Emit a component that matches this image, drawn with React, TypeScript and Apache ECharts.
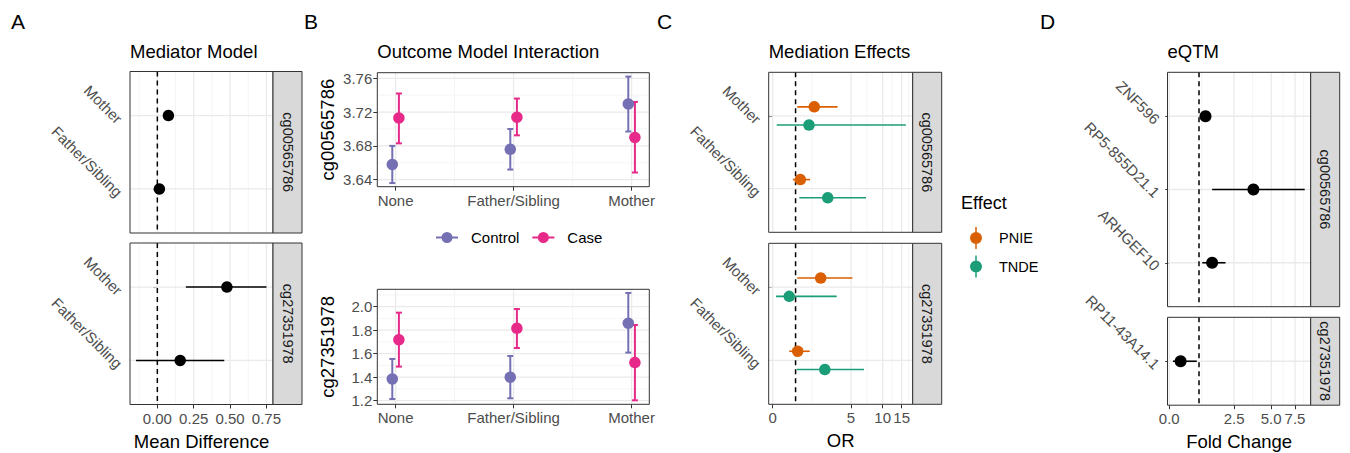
import React, { useEffect, useRef } from "react";
import * as echarts from "echarts";

// ---------- data ----------
const relations = ["Father/Sibling", "Mother"]; // y positions 1, 2
const cpgIds = ["cg00565786", "cg27351978"];

// Panel A: Mediator model (mean difference), order = relations
const medEstCg00565786 = [0.014, 0.076];
const medLoCg00565786 = [-0.012, 0.05];
const medHiCg00565786 = [0.04, 0.1];
const medEstCg27351978 = [0.157, 0.478];
const medLoCg27351978 = [-0.147, 0.196];
const medHiCg27351978 = [0.46, 0.75];
const meanDiffTicks = [0, 0.25, 0.5, 0.75];
const meanDiffMinor = [-0.125, 0.125, 0.375, 0.625];

// Panel B: Outcome model interaction
const exposureGroups = ["None", "Father/Sibling", "Mother"];
const ctrlMeanCg00565786 = [3.658, 3.676, 3.7296];
const ctrlLoCg00565786 = [3.636, 3.652, 3.697];
const ctrlHiCg00565786 = [3.68, 3.7, 3.762];
const caseMeanCg00565786 = [3.713, 3.714, 3.69];
const caseLoCg00565786 = [3.683, 3.6925, 3.6485];
const caseHiCg00565786 = [3.742, 3.736, 3.732];
const ctrlMeanCg27351978 = [1.385, 1.4, 1.859];
const ctrlLoCg27351978 = [1.214, 1.22, 1.609];
const ctrlHiCg27351978 = [1.555, 1.58, 2.117];
const caseMeanCg27351978 = [1.719, 1.816, 1.524];
const caseLoCg27351978 = [1.49, 1.648, 1.203];
const caseHiCg27351978 = [1.949, 1.98, 1.844];
const bTicksTop = [3.64, 3.68, 3.72, 3.76];
const bMinorTop = [3.66, 3.7, 3.74];
const bTicksBottom = [1.2, 1.4, 1.6, 1.8, 2.0];
const bMinorBottom = [1.3, 1.5, 1.7, 1.9, 2.1];

// Panel C: Mediation effects (OR), order = relations
const pnieOrCg00565786 = [1.23, 1.98];
const pnieLoCg00565786 = [0.87, 1.08];
const pnieHiCg00565786 = [1.74, 3.66];
const tndeOrCg00565786 = [2.87, 1.68];
const tndeLoCg00565786 = [1.18, 0.17];
const tndeHiCg00565786 = [6.98, 16.4];
const pnieOrCg27351978 = [1.1, 2.38];
const pnieLoCg27351978 = [0.71, 1.08];
const pnieHiCg27351978 = [1.72, 5.16];
const tndeOrCg27351978 = [2.66, 0.71];
const tndeLoCg27351978 = [1.05, 0.14];
const tndeHiCg27351978 = [6.68, 3.58];
const orTicks = [0, 5, 10, 15];
const orTicksExt = [0, 5, 10, 15, 20];

// Panel D: eQTM (fold change)
const genesCg00565786 = ["ARHGEF10", "RP5-855D21.1", "ZNF596"]; // y 1..3
const fcCg00565786 = [1.5, 3.64, 1.24];
const fcLoCg00565786 = [1.12, 1.5, 1.12];
const fcHiCg00565786 = [2.08, 8.82, 1.36];
const genesCg27351978 = ["RP11-43A14.1"];
const fcCg27351978 = [0.37];
const fcLoCg27351978 = [0.12];
const fcHiCg27351978 = [0.92];
const fcTicks = [0, 2.5, 5, 7.5];
const fcTicksExt = [0, 2.5, 5, 7.5, 10];

// ---------- styling / layout ----------
const COL_CTRL = "#7570B3";
const COL_CASE = "#E7298A";
const COL_PNIE = "#D95F02";
const COL_TNDE = "#1B9E77";
const FONT = "'Liberation Sans', Arial, Helvetica, sans-serif";
const GRID_MAJOR = "#EAEAEA";
const GRID_MINOR = "#F2F2F2";

const plog = (v: number) => Math.asinh(v / 2); // pseudo-log (sigma = 1)

const grids = [
  { left: 130, top: 71.5, width: 143, height: 161.5 }, // A top
  { left: 130, top: 243, width: 143, height: 161.5 }, // A bottom
  { left: 377.3, top: 72.7, width: 272, height: 114 }, // B top
  { left: 377.3, top: 289.3, width: 272, height: 115 }, // B bottom
  { left: 768.7, top: 72.3, width: 144, height: 160 }, // C top
  { left: 768.7, top: 243.3, width: 144, height: 161 }, // C bottom
  { left: 1167.5, top: 72.3, width: 143.2, height: 234.4 }, // D top
  { left: 1167.5, top: 317.3, width: 143.2, height: 87.9 }, // D bottom
];
const STRIP_W = 29;
const DODGE_B = 0.028;
const DODGE_C = 0.125;

const midpoints = (arr: number[]) =>
  arr.slice(1).map((v, i) => (v + arr[i]) / 2);

const nearestLabel = (vals: number[], labels: string[]) => (v: number) => {
  let best = 0;
  for (let i = 1; i < vals.length; i++)
    if (Math.abs(vals[i] - v) < Math.abs(vals[best] - v)) best = i;
  return labels[best];
};

const tickLabel = { color: "#4D4D4D", fontSize: 15, fontFamily: FONT };
const tickLine = { color: "#333333", width: 1 };

function xAxis(gi: number, min: number, max: number, ticks: number[], labels: string[], show: boolean, name?: string) {
  return {
    type: "value", gridIndex: gi, min, max,
    axisLine: { show: false }, splitLine: { show: false },
    axisTick: { show, customValues: ticks, length: 4, lineStyle: tickLine },
    axisLabel: { show, customValues: ticks, formatter: nearestLabel(ticks, labels), margin: 6, ...tickLabel },
    name: name || "", nameLocation: "middle", nameGap: 27,
    nameTextStyle: { fontSize: 18.5, color: "#000", fontFamily: FONT },
  };
}
function yAxis(gi: number, min: number, max: number, ticks: number[], labels: string[], rotate: number, name?: string) {
  const extra: any = rotate ? { verticalAlign: "top", margin: 5 } : { margin: 5 };
  return {
    type: "value", gridIndex: gi, min, max,
    axisLine: { show: false }, splitLine: { show: false },
    axisTick: { show: true, customValues: ticks, length: 4, lineStyle: tickLine },
    axisLabel: { show: true, customValues: ticks, formatter: nearestLabel(ticks, labels), rotate, ...tickLabel, ...extra },
    name: name || "", nameLocation: "middle", nameGap: 40, nameRotate: 90,
    nameTextStyle: { fontSize: 18.5, color: "#000", fontFamily: FONT },
  };
}

function gridLines(gi: number, xMajor: number[], xMinor: number[], yMajor: number[], yMinor: number[], vline?: number) {
  return {
    type: "custom", xAxisIndex: gi, yAxisIndex: gi, z: 1, silent: true,
    data: [[0, 0]],
    renderItem: (params: any, api: any) => {
      const cs = params.coordSys;
      const children: any[] = [];
      const vert = (v: number, w: number, c: string, dash?: number[]) => {
        const x = api.coord([v, 0])[0];
        if (x < cs.x - 0.5 || x > cs.x + cs.width + 0.5) return;
        children.push({ type: "line", shape: { x1: x, y1: cs.y, x2: x, y2: cs.y + cs.height }, style: { stroke: c, lineWidth: w, lineDash: dash } });
      };
      const hor = (v: number, w: number, c: string) => {
        const y = api.coord([0, v])[1];
        if (y < cs.y - 0.5 || y > cs.y + cs.height + 0.5) return;
        children.push({ type: "line", shape: { x1: cs.x, y1: y, x2: cs.x + cs.width, y2: y }, style: { stroke: c, lineWidth: w } });
      };
      xMinor.forEach((v) => vert(v, 0.8, GRID_MINOR));
      yMinor.forEach((v) => hor(v, 0.8, GRID_MINOR));
      xMajor.forEach((v) => vert(v, 1.3, GRID_MAJOR));
      yMajor.forEach((v) => hor(v, 1.3, GRID_MAJOR));
      if (vline !== undefined) vert(vline, 1.5, "#000", [5, 4]);
      return { type: "group", children };
    },
  };
}

function hErr(gi: number, data: number[][], color: string, width = 1.6) {
  return {
    type: "custom", xAxisIndex: gi, yAxisIndex: gi, z: 3, silent: true, data,
    encode: { x: 0, y: 1 },
    renderItem: (_p: any, api: any) => {
      const y = api.value(1);
      const a = api.coord([api.value(2), y]);
      const b = api.coord([api.value(3), y]);
      return { type: "line", shape: { x1: a[0], y1: a[1], x2: b[0], y2: b[1] }, style: { stroke: color, lineWidth: width } };
    },
  };
}
function vErr(gi: number, data: number[][], color: string) {
  return {
    type: "custom", xAxisIndex: gi, yAxisIndex: gi, z: 3, silent: true, data,
    encode: { x: 0, y: 1 },
    renderItem: (_p: any, api: any) => {
      const x = api.value(0);
      const t = api.coord([x, api.value(2)]);
      const b = api.coord([x, api.value(1)]);
      const cw = 3;
      const st = { stroke: color, lineWidth: 2 };
      return {
        type: "group",
        children: [
          { type: "line", shape: { x1: t[0], y1: t[1], x2: b[0], y2: b[1] }, style: st },
          { type: "line", shape: { x1: t[0] - cw, y1: t[1], x2: t[0] + cw, y2: t[1] }, style: st },
          { type: "line", shape: { x1: b[0] - cw, y1: b[1], x2: b[0] + cw, y2: b[1] }, style: st },
        ],
      };
    },
  };
}
function pts(gi: number, name: string, data: number[][], color: string, size = 11.5) {
  return {
    type: "scatter", name, xAxisIndex: gi, yAxisIndex: gi, z: 4, silent: true,
    data, symbolSize: size, itemStyle: { color, opacity: 1 },
  };
}

function buildOption() {
  // transformed scales
  const orT = orTicks.map(plog);
  const orMinor = midpoints(orTicksExt.map(plog));
  const fcT = fcTicks.map(plog);
  const fcMinor = midpoints(fcTicksExt.map(plog));
  const relY = relations.map((_, i) => i + 1);
  const grpX = exposureGroups.map((_, i) => i + 1);

  const xAxes = [
    xAxis(0, -0.188, 0.795, meanDiffTicks, meanDiffTicks.map((v) => v.toFixed(2)), false),
    xAxis(1, -0.188, 0.795, meanDiffTicks, meanDiffTicks.map((v) => v.toFixed(2)), true, "Mean Difference"),
    xAxis(2, 0.845, 3.15, grpX, exposureGroups, true),
    xAxis(3, 0.845, 3.15, grpX, exposureGroups, true),
    xAxis(4, -0.084, 2.945, orT, orTicks.map(String), false),
    xAxis(5, -0.084, 2.945, orT, orTicks.map(String), true, "OR"),
    xAxis(6, -0.028, 2.286, fcT, fcTicks.map((v) => v.toFixed(1)), false),
    xAxis(7, -0.028, 2.286, fcT, fcTicks.map((v) => v.toFixed(1)), true, "Fold Change"),
  ];
  const yAxes = [
    yAxis(0, 0.4, 2.6, relY, relations, -45),
    yAxis(1, 0.4, 2.6, relY, relations, -45),
    yAxis(2, 3.6317, 3.7666, bTicksTop, bTicksTop.map((v) => v.toFixed(2)), 0, cpgIds[0]),
    yAxis(3, 1.169, 2.148, bTicksBottom, bTicksBottom.map((v) => v.toFixed(1)), 0, cpgIds[1]),
    yAxis(4, 0.4, 2.6, relY, relations, -45),
    yAxis(5, 0.4, 2.6, relY, relations, -45),
    yAxis(6, 0.4, 3.6, [1, 2, 3], genesCg00565786, -45),
    yAxis(7, 0.4, 1.6, [1], genesCg27351978, -45),
  ];

  const series: any[] = [
    gridLines(0, meanDiffTicks, meanDiffMinor, relY, [], 0),
    gridLines(1, meanDiffTicks, meanDiffMinor, relY, [], 0),
    gridLines(2, grpX, midpoints(grpX), bTicksTop, bMinorTop),
    gridLines(3, grpX, midpoints(grpX), bTicksBottom, bMinorBottom),
    gridLines(4, orT, orMinor, relY, [], plog(1)),
    gridLines(5, orT, orMinor, relY, [], plog(1)),
    gridLines(6, fcT, fcMinor, [1, 2, 3], [], plog(1)),
    gridLines(7, fcT, fcMinor, [1], [], plog(1)),
  ];

  // A
  const aSets = [
    [medEstCg00565786, medLoCg00565786, medHiCg00565786],
    [medEstCg27351978, medLoCg27351978, medHiCg27351978],
  ];
  aSets.forEach(([est, lo, hi], gi) => {
    series.push(hErr(gi, est.map((v, i) => [v, relY[i], lo[i], hi[i]]), "#000"));
    series.push(pts(gi, "Mean Difference " + cpgIds[gi], est.map((v, i) => [v, relY[i]]), "#000"));
  });

  // B
  const bSets = [
    [ctrlMeanCg00565786, ctrlLoCg00565786, ctrlHiCg00565786, caseMeanCg00565786, caseLoCg00565786, caseHiCg00565786],
    [ctrlMeanCg27351978, ctrlLoCg27351978, ctrlHiCg27351978, caseMeanCg27351978, caseLoCg27351978, caseHiCg27351978],
  ];
  bSets.forEach(([cm, cl, ch, km, kl, kh], k) => {
    const gi = 2 + k;
    series.push(vErr(gi, cm.map((_, i) => [grpX[i] - DODGE_B, cl[i], ch[i]]), COL_CTRL));
    series.push(vErr(gi, km.map((_, i) => [grpX[i] + DODGE_B, kl[i], kh[i]]), COL_CASE));
    series.push(pts(gi, "Control", cm.map((v, i) => [grpX[i] - DODGE_B, v]), COL_CTRL));
    series.push(pts(gi, "Case", km.map((v, i) => [grpX[i] + DODGE_B, v]), COL_CASE));
  });

  // C
  const cSets = [
    [pnieOrCg00565786, pnieLoCg00565786, pnieHiCg00565786, tndeOrCg00565786, tndeLoCg00565786, tndeHiCg00565786],
    [pnieOrCg27351978, pnieLoCg27351978, pnieHiCg27351978, tndeOrCg27351978, tndeLoCg27351978, tndeHiCg27351978],
  ];
  cSets.forEach(([pe, pl, ph, te, tl, th], k) => {
    const gi = 4 + k;
    series.push(hErr(gi, pe.map((v, i) => [plog(v), relY[i] + DODGE_C, plog(pl[i]), plog(ph[i])]), COL_PNIE));
    series.push(hErr(gi, te.map((v, i) => [plog(v), relY[i] - DODGE_C, plog(tl[i]), plog(th[i])]), COL_TNDE));
    series.push(pts(gi, "PNIE", pe.map((v, i) => [plog(v), relY[i] + DODGE_C]), COL_PNIE));
    series.push(pts(gi, "TNDE", te.map((v, i) => [plog(v), relY[i] - DODGE_C]), COL_TNDE));
  });

  // D
  const dSets = [
    [fcCg00565786, fcLoCg00565786, fcHiCg00565786],
    [fcCg27351978, fcLoCg27351978, fcHiCg27351978],
  ];
  dSets.forEach(([est, lo, hi], k) => {
    const gi = 6 + k;
    series.push(hErr(gi, est.map((v, i) => [plog(v), i + 1, plog(lo[i]), plog(hi[i])]), "#000"));
    series.push(pts(gi, "Fold Change " + cpgIds[k], est.map((v, i) => [plog(v), i + 1]), "#000", 12));
  });

  // borders + strips
  const graphics: any[] = [];
  grids.forEach((g) => {
    graphics.push({
      type: "rect", z: 100, silent: true,
      shape: { x: g.left, y: g.top, width: g.width, height: g.height },
      style: { fill: "none", stroke: "#333333", lineWidth: 1 },
    });
  });
  const stripFor = [0, 1, 4, 5, 6, 7];
  stripFor.forEach((gi) => {
    const g = grids[gi];
    const x = g.left + g.width;
    const label = cpgIds[gi % 2 === 0 ? 0 : 1];
    graphics.push({
      type: "rect", z: 100, silent: true,
      shape: { x, y: g.top, width: STRIP_W, height: g.height },
      style: { fill: "#D9D9D9", stroke: "#333333", lineWidth: 1 },
    });
    graphics.push({
      type: "text", z: 101, silent: true,
      x: x + STRIP_W / 2, y: g.top + g.height / 2, rotation: -Math.PI / 2,
      style: { text: label, fill: "#1A1A1A", fontSize: 14.5, fontFamily: FONT, align: "center", verticalAlign: "middle" },
    });
  });
  graphics.push({
    type: "text", z: 101, silent: true, x: 961, y: 203,
    style: { text: "Effect", fill: "#000", fontSize: 18, fontFamily: FONT, align: "left", verticalAlign: "middle" },
  });

  const tTitle = (text: string, left: number, top: number, size: number) => ({
    text, left, top, padding: 0,
    textStyle: { fontSize: size, fontWeight: "normal", color: "#000", fontFamily: FONT },
  });

  return {
    animation: false,
    textStyle: { fontFamily: FONT },
    title: [
      tTitle("A", 11, 11, 21),
      tTitle("B", 304, 11, 21),
      tTitle("C", 657, 11, 21),
      tTitle("D", 1040, 11, 21),
      tTitle("Mediator Model", 130, 42, 18.5),
      tTitle("Outcome Model Interaction", 377.3, 42, 18.5),
      tTitle("Mediation Effects", 768.7, 42, 18.5),
      tTitle("eQTM", 1167.5, 42, 18.5),
    ],
    legend: [
      {
        data: ["Control", "Case"], left: 436, top: 230, padding: 0,
        icon: "path://M0,4.5L22,4.5L22,6.5L0,6.5Z M5.5,5.5A5.5,5.5,0,1,1,16.5,5.5A5.5,5.5,0,1,1,5.5,5.5Z",
        itemWidth: 22, itemHeight: 11, itemGap: 13,
        textStyle: { fontSize: 15, color: "#000", fontFamily: FONT, padding: [0, 0, 0, 8] },
        selectedMode: false,
      },
      {
        data: ["PNIE", "TNDE"], orient: "vertical", left: 970, top: 227, padding: 0,
        icon: "path://M5.25,0L6.75,0L6.75,22L5.25,22Z M0,11A6,6,0,1,1,12,11A6,6,0,1,1,0,11Z",
        itemWidth: 12, itemHeight: 22, itemGap: 6.5,
        textStyle: { fontSize: 14.5, color: "#000", fontFamily: FONT, padding: [0, 0, 0, 12] },
        selectedMode: false,
      },
    ],
    grid: grids.map((g) => ({ ...g, show: false, containLabel: false })),
    xAxis: xAxes,
    yAxis: yAxes,
    series,
    graphic: graphics,
  };
}

export default function App() {
  const ref = useRef<HTMLDivElement>(null);
  useEffect(() => {
    if (!ref.current) return;
    const chart = echarts.init(ref.current, null, { renderer: "svg" });
    chart.setOption(buildOption() as any);
    return () => chart.dispose();
  }, []);
  return (
    <div
      ref={ref}
      style={{ position: "absolute", left: 0, top: 0, width: 1350, height: 453, background: "#fff" }}
    />
  );
}
